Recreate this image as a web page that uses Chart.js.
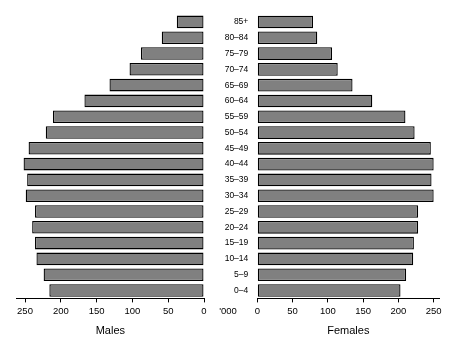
<!DOCTYPE html>
<html>
<head>
<meta charset="utf-8">
<script src="https://cdn.jsdelivr.net/npm/chart.js@4"></script>
<style>
  html, body { margin: 0; padding: 0; background: #fff; }
  #wrap { position: relative; width: 464px; height: 351px; overflow: hidden; }
  canvas { position: absolute; top: 0; }
  #cL { left: 0; }
  #cR { left: 200px; }
</style>
</head>
<body>
<div id="wrap">
  <canvas id="cL" width="232" height="351"></canvas>
  <canvas id="cR" width="264" height="351"></canvas>
</div>
<script>
// Age groups, top to bottom
const ageGroups = ['85+','80–84','75–79','70–74','65–69','60–64','55–59','50–54','45–49','40–44','35–39','30–34','25–29','20–24','15–19','10–14','5–9','0–4'];
// Population ('000)
const males   = [38, 59, 88, 104, 132, 167, 211, 221, 245, 252, 247, 249, 236, 240, 236, 234, 224, 216];
const females = [79, 85, 106, 114, 135, 163, 210, 223, 246, 250, 247, 250, 228, 228, 222, 221, 211, 203];
const tickValues = [0, 50, 100, 150, 200, 250];
const unitLabel = "'000";

Chart.defaults.font.family = "'Liberation Sans', Arial, sans-serif";
Chart.defaults.color = '#000';

function xScale(max, reverse, title) {
  return {
    type: 'linear',
    position: 'bottom',
    min: 0,
    max: max,
    reverse: reverse,
    afterBuildTicks: (s) => { s.ticks = tickValues.map(v => ({ value: v })); },
    afterFit: (s) => { s.height = 52.6; },
    ticks: { font: { size: 9.5 }, padding: 3, maxRotation: 0, autoSkip: false, color: '#000' },
    grid: { display: true, drawOnChartArea: false, drawTicks: true, tickLength: 4, color: '#000' },
    border: { display: true, color: '#000', width: 1 },
    title: { display: true, text: title, font: { size: 11, lineHeight: 1.2 }, padding: { top: 0, bottom: 13.4 }, color: '#000' }
  };
}

const barDs = (data) => ({
  data: data,
  backgroundColor: '#808080',
  borderColor: '#000',
  borderWidth: 1.3,
  borderSkipped: false,
  categoryPercentage: 0.8,
  barPercentage: 1.0
});

new Chart(document.getElementById('cL'), {
  type: 'bar',
  data: { labels: ageGroups, datasets: [barDs(males)] },
  options: {
    indexAxis: 'y',
    responsive: false,
    animation: false,
    layout: { padding: { left: 16.7, right: 28, top: 14, bottom: 0 } },
    plugins: { legend: { display: false }, tooltip: { enabled: false } },
    scales: {
      x: xScale(261.6, true, 'Males'),
      y: { display: false }
    }
  }
});

const unitPlugin = {
  id: 'unitLabel',
  afterDraw(chart) {
    const ctx = chart.ctx;
    const xs = chart.scales.x;
    ctx.save();
    ctx.font = "9.5px 'Liberation Sans', Arial, sans-serif";
    ctx.fillStyle = '#000';
    ctx.textAlign = 'center';
    ctx.textBaseline = 'middle';
    ctx.fillText(unitLabel, 28, xs.top + 12.6);
    ctx.restore();
  }
};

new Chart(document.getElementById('cR'), {
  type: 'bar',
  data: { labels: ageGroups, datasets: [barDs(females)] },
  options: {
    indexAxis: 'y',
    responsive: false,
    animation: false,
    layout: { padding: { left: 0, right: 24.7, top: 14, bottom: 0 } },
    plugins: { legend: { display: false }, tooltip: { enabled: false } },
    scales: {
      x: xScale(258, false, 'Females'),
      y: {
        position: 'left',
        afterFit: (s) => { s.width = 57.3; },
        ticks: { font: { size: 8.5 }, padding: 9, color: '#000', autoSkip: false, crossAlign: 'near' },
        grid: { display: false, drawTicks: false },
        border: { display: false }
      }
    }
  },
  plugins: [unitPlugin]
});
</script>
</body>
</html>
